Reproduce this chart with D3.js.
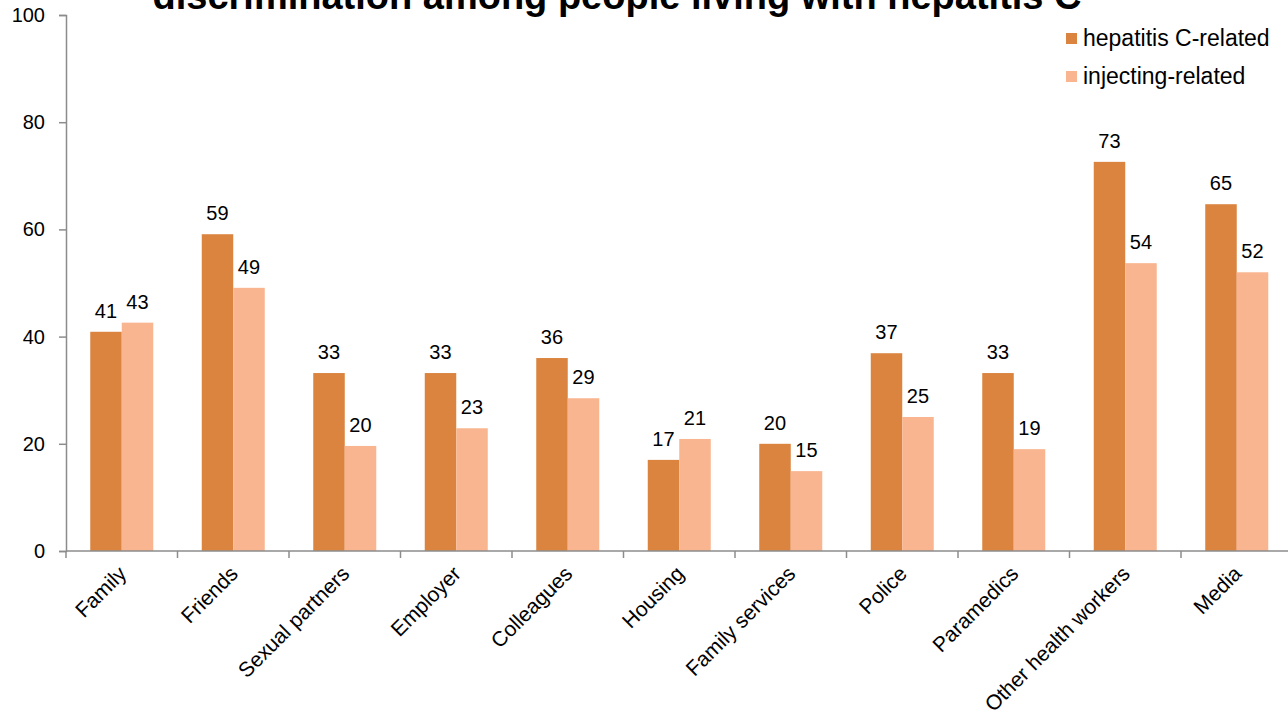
<!DOCTYPE html>
<html>
<head>
<meta charset="utf-8">
<script src="https://cdn.jsdelivr.net/npm/d3@7"></script>
<style>
  html, body { margin: 0; padding: 0; background: #fff; }
  svg { display: block; font-family: "Liberation Sans", Arial, sans-serif; }
</style>
</head>
<body>
<svg id="chart" width="1288" height="716"></svg>
<script>
// Reported experience of stigma and discrimination, by source (%)
const categories = ["Family", "Friends", "Sexual partners", "Employer", "Colleagues", "Housing",
  "Family services", "Police", "Paramedics", "Other health workers", "Media"];
const hepatitisRelated = [40.9, 59.1, 33.2, 33.2, 36.0, 17.0, 20.0, 36.9, 33.2, 72.6, 64.7];
const injectingRelated = [42.6, 49.1, 19.6, 22.9, 28.5, 20.9, 14.9, 25.0, 19.0, 53.7, 52.0];
const seriesNames = ["hepatitis C-related", "injecting-related"];
const yTicks = [0, 20, 40, 60, 80, 100];
const title = "discrimination among people living with hepatitis C";

const colors = ["#DB843F", "#F9B58F"];
const axisColor = "#8c8c8c";

const svg = d3.select("#chart");
const margin = { left: 66, top: 15, bottom: 551 };
const plotRight = 66 + 111.5 * categories.length;

const x0 = d3.scaleBand().domain(categories).range([margin.left, plotRight])
  .paddingInner(0.435).paddingOuter(0.2175);
const x1 = d3.scaleBand().domain(seriesNames).range([0, x0.bandwidth()]).padding(0);
const y = d3.scaleLinear().domain([0, 100]).range([margin.bottom, margin.top]);

const rows = categories.map((c, i) => ({
  category: c,
  values: [
    { series: seriesNames[0], value: hepatitisRelated[i] },
    { series: seriesNames[1], value: injectingRelated[i] }
  ]
}));

// Title (lower line of a two-line heading, top edge runs off the page)
svg.append("text")
  .attr("x", 617).attr("y", 9)
  .attr("text-anchor", "middle")
  .attr("font-size", 38).attr("font-weight", "bold").attr("fill", "#000")
  .text(title);

// Bars
const groups = svg.append("g").selectAll("g").data(rows).join("g")
  .attr("transform", d => `translate(${x0(d.category)},0)`);

groups.selectAll("rect").data(d => d.values).join("rect")
  .attr("x", d => x1(d.series))
  .attr("y", d => y(d.value))
  .attr("width", x1.bandwidth())
  .attr("height", d => y(0) - y(d.value))
  .attr("fill", (d, i) => colors[i]);

groups.selectAll("text.value").data(d => d.values).join("text")
  .attr("class", "value")
  .attr("x", d => x1(d.series) + x1.bandwidth() / 2)
  .attr("y", d => y(d.value) - 14)
  .attr("text-anchor", "middle")
  .attr("font-size", 20).attr("fill", "#000")
  .text(d => d3.format(".0f")(d.value));

// Y axis
const yAxis = svg.append("g")
  .attr("transform", `translate(${margin.left},0)`)
  .call(d3.axisLeft(y).tickValues(yTicks).tickSize(7).tickPadding(14));
yAxis.select(".domain").attr("stroke", axisColor).attr("stroke-width", 1.5);
yAxis.selectAll(".tick line").attr("stroke", axisColor).attr("stroke-width", 1.5);
yAxis.selectAll(".tick text").attr("font-size", 20).attr("fill", "#000")
  .attr("font-family", "Liberation Sans, Arial, sans-serif");

// X axis: ticks between categories
const xAxisG = svg.append("g").attr("transform", `translate(0,${margin.bottom})`);
xAxisG.append("line")
  .attr("x1", margin.left).attr("x2", plotRight)
  .attr("stroke", axisColor).attr("stroke-width", 1.5);
const boundaries = d3.range(categories.length + 1).map(i => margin.left + x0.step() * i);
xAxisG.selectAll("line.tick").data(boundaries).join("line")
  .attr("class", "tick")
  .attr("x1", d => d).attr("x2", d => d)
  .attr("y1", 0).attr("y2", 7)
  .attr("stroke", axisColor).attr("stroke-width", 1.5);

xAxisG.selectAll("text.cat").data(categories).join("text")
  .attr("class", "cat")
  .attr("transform", d => `translate(${x0(d) + x0.bandwidth() / 2 + 6},${24}) rotate(-45)`)
  .attr("text-anchor", "end")
  .attr("font-size", 21).attr("fill", "#000")
  .text(d => d);

// Legend
const legend = svg.append("g").selectAll("g").data(seriesNames).join("g")
  .attr("transform", (d, i) => `translate(1066,${33 + i * 38})`);
legend.append("rect").attr("width", 11).attr("height", 11).attr("fill", (d, i) => colors[i]);
legend.append("text").attr("x", 17).attr("y", 13)
  .attr("font-size", 23).attr("fill", "#000").text(d => d);
</script>
</body>
</html>
